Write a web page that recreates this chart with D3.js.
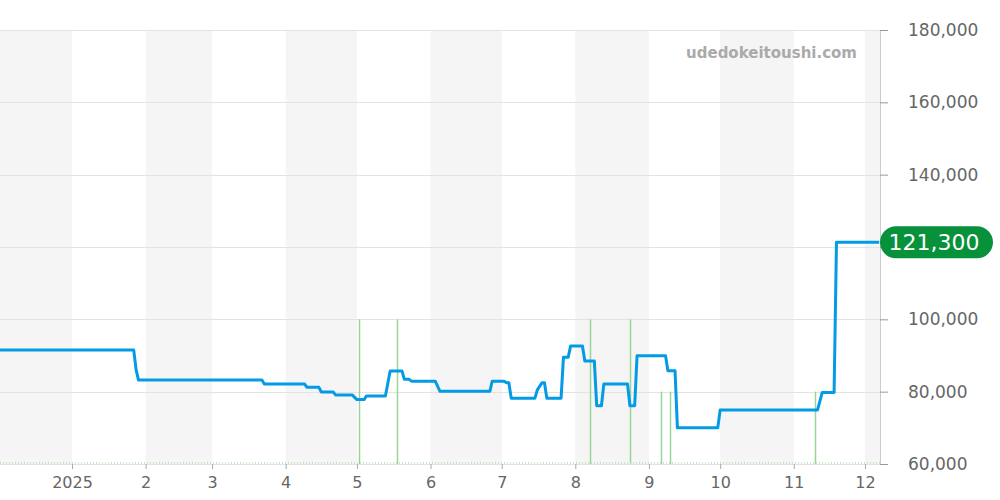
<!DOCTYPE html>
<html>
<head>
<meta charset="utf-8">
<script src="https://cdn.jsdelivr.net/npm/d3@7"></script>
<style>
  body { margin: 0; background: #fff; }
  svg { font-family: "DejaVu Sans", sans-serif; }
</style>
</head>
<body>
<svg width="1000" height="500"></svg>
<script>
// données
const priceDates = ['2024-12-01', '2025-01-27', '2025-01-28', '2025-01-29', '2025-03-22', '2025-03-23',
  '2025-04-09', '2025-04-10', '2025-04-15', '2025-04-16', '2025-04-21', '2025-04-22', '2025-04-29', '2025-05-01',
  '2025-05-04', '2025-05-05', '2025-05-13', '2025-05-15', '2025-05-20', '2025-05-21', '2025-05-23', '2025-05-24',
  '2025-06-03', '2025-06-05', '2025-06-26', '2025-06-27', '2025-07-02', '2025-07-03', '2025-07-04', '2025-07-05',
  '2025-07-15', '2025-07-16', '2025-07-18', '2025-07-19', '2025-07-20', '2025-07-26', '2025-07-27', '2025-07-29',
  '2025-07-30', '2025-08-04', '2025-08-05', '2025-08-09', '2025-08-10', '2025-08-12', '2025-08-13', '2025-08-23',
  '2025-08-24', '2025-08-26', '2025-08-27', '2025-09-08', '2025-09-09', '2025-09-12', '2025-09-13', '2025-09-30',
  '2025-10-01', '2025-11-11', '2025-11-13', '2025-11-18', '2025-11-19', '2025-12-07'];
const priceValues = [91500, 91500, 86000, 83200, 83200, 82100,
  82100, 81200, 81200, 79900, 79900, 79100, 79100, 77800,
  77800, 78800, 78800, 85700, 85700, 83400, 83400, 82900,
  82900, 80100, 80100, 82900, 82900, 82500, 82500, 78200,
  78200, 80500, 82500, 82500, 78200, 78200, 89500, 89500,
  92600, 92600, 88500, 88500, 76100, 76100, 82100, 82100,
  76100, 76100, 89900, 89900, 85800, 85800, 70000, 70000,
  74900, 74900, 79800, 79800, 121300, 121300];

// barres vertes
const eventDates = ['2025-05-02', '2025-05-18', '2025-08-07', '2025-08-24', '2025-09-06', '2025-09-10', '2025-11-10'];
const eventValues = [100000, 100000, 100000, 100000, 80000, 80000, 80000];

const yTicks = [60000, 80000, 100000, 120000, 140000, 160000, 180000];
const lastPrice = 121300;

const parse = d3.timeParse('%Y-%m-%d');
const DATA = priceDates.map((d, i) => ({ date: parse(d), value: priceValues[i] }));
const EVENTS = eventDates.map((d, i) => ({ date: parse(d), value: eventValues[i] }));

const svg = d3.select('svg');
const plot = { left: 0, right: 880, top: 30, bottom: 464 };

const x = d3.scaleTime()
  .domain([new Date(2024, 11, 1, 16), new Date(2025, 11, 7, 8)])
  .range([plot.left, plot.right]);

const y = d3.scaleLinear()
  .domain([60000, 180000])
  .range([plot.bottom, plot.top]);

// bandes mensuelles alternées
const months = d3.timeMonth.range(new Date(2024, 11, 1), new Date(2026, 0, 1));
svg.append('g')
  .selectAll('rect')
  .data(months.filter((m, i) => i % 2 === 0))
  .join('rect')
  .attr('x', d => Math.max(plot.left, x(d)))
  .attr('y', plot.top)
  .attr('width', d => Math.min(plot.right, x(d3.timeMonth.offset(d, 1))) - Math.max(plot.left, x(d)))
  .attr('height', plot.bottom - plot.top)
  .attr('fill', '#f5f5f5');

// grille
svg.append('g')
  .selectAll('line')
  .data(yTicks)
  .join('line')
  .attr('x1', plot.left)
  .attr('x2', plot.right)
  .attr('y1', d => Math.round(y(d)) + 0.5)
  .attr('y2', d => Math.round(y(d)) + 0.5)
  .attr('stroke', '#e3e3e3')
  .attr('stroke-width', 1);

// filigrane
svg.append('text')
  .text('udedokeitoushi.com')
  .attr('x', 857)
  .attr('y', 58)
  .attr('text-anchor', 'end')
  .attr('fill', '#aaaaaa')
  .attr('font-weight', 'bold')
  .attr('font-size', 15);

// barres vertes
svg.append('g')
  .selectAll('line')
  .data(EVENTS)
  .join('line')
  .attr('x1', d => Math.round(x(d.date)) + 0.5)
  .attr('x2', d => Math.round(x(d.date)) + 0.5)
  .attr('y1', plot.bottom)
  .attr('y2', d => y(d.value))
  .attr('stroke', '#98d498')
  .attr('stroke-width', 1.5);

svg.append('line')
  .attr('x1', plot.left)
  .attr('x2', plot.right)
  .attr('y1', plot.bottom - 1)
  .attr('y2', plot.bottom - 1)
  .attr('stroke', '#b5e0b5')
  .attr('stroke-dasharray', '1,2')
  .attr('stroke-width', 1.5);

// axe X
const xAxis = svg.append('g')
  .attr('transform', `translate(0,${plot.bottom})`)
  .call(d3.axisBottom(x)
    .ticks(d3.timeMonth.every(1))
    .tickSize(5)
    .tickPadding(8)
    .tickFormat(d => d.getMonth() === 0 ? d.getFullYear() : d.getMonth() + 1));
xAxis.select('.domain').remove();
xAxis.selectAll('.tick').filter(d => d < new Date(2025, 0, 1)).remove();
xAxis.selectAll('.tick line').attr('stroke', '#aaaaaa');
xAxis.selectAll('.tick text')
  .attr('fill', '#666666')
  .attr('font-size', 16)
  .attr('font-family', '"DejaVu Sans", sans-serif');

// axe Y à droite
const yAxis = svg.append('g')
  .attr('transform', `translate(${plot.right},0)`)
  .call(d3.axisRight(y)
    .tickValues(yTicks)
    .tickSize(8)
    .tickPadding(20)
    .tickFormat(d3.format(',')));
yAxis.select('.domain').attr('stroke', '#cccccc').attr('d', `M0.5,${plot.top}V${plot.bottom}`);
yAxis.selectAll('.tick line').attr('stroke', '#999999');
yAxis.selectAll('.tick text')
  .attr('fill', '#666666')
  .attr('font-size', 17)
  .attr('font-family', '"DejaVu Sans", sans-serif');
// l'étiquette du dernier prix cache le 120,000
yAxis.selectAll('.tick').filter(d => d === 120000).select('text').remove();

// courbe du prix
const line = d3.line()
  .x(d => x(d.date))
  .y(d => y(d.value));

svg.append('path')
  .attr('d', line(DATA))
  .attr('fill', 'none')
  .attr('stroke', '#039be5')
  .attr('stroke-width', 3)
  .attr('stroke-linejoin', 'round');

// étiquette du dernier prix
const label = svg.append('g')
  .attr('transform', `translate(${plot.right},${y(lastPrice)})`);
label.append('rect')
  .attr('x', 0)
  .attr('y', -16)
  .attr('width', 113)
  .attr('height', 32)
  .attr('rx', 16)
  .attr('fill', '#07913a');
label.append('text')
  .text(d3.format(',')(lastPrice))
  .attr('x', 54)
  .attr('y', 8)
  .attr('text-anchor', 'middle')
  .attr('fill', '#ffffff')
  .attr('font-size', 22);
</script>
</body>
</html>
